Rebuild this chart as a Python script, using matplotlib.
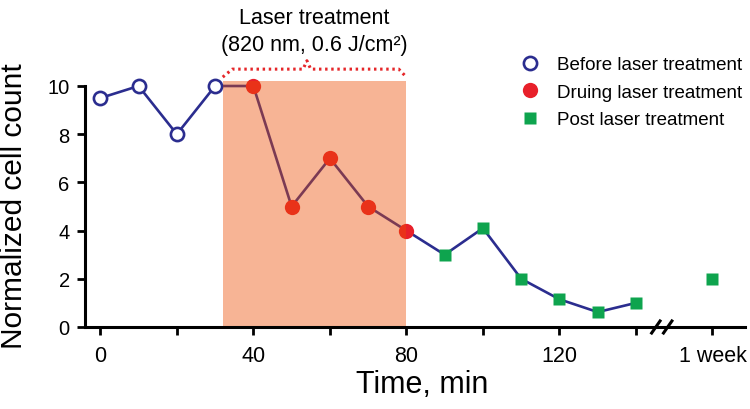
import matplotlib
matplotlib.use("Agg")
import matplotlib.pyplot as plt
from matplotlib.lines import Line2D
from matplotlib.patches import Rectangle

plt.rcParams["font.family"] = ["Liberation Sans", "DejaVu Sans"]

# Data (time in minutes; the 1-week point is placed after the axis break)
t_before = [0, 10, 20, 30]
n_before = [9.5, 10, 8, 10]
t_during = [40, 50, 60, 70, 80]
n_during = [10, 5, 7, 5, 4]
t_post = [90, 100, 110, 120, 130, 140]
n_post = [3, 4.1, 2, 1.15, 0.62, 1.0]
t_week = [160]
n_week = [2.0]

laser_start, laser_end = 32, 80
tick_pos = [0, 20, 40, 60, 80, 100, 120, 140, 160]
tick_labels = ["0", "", "40", "", "80", "", "120", "", "1 week"]
ytick_pos = [0, 2, 4, 6, 8, 10]

NAVY = "#2b2d8f"
RED = "#e8202a"
GREEN = "#0ea44e"
SHADE = "#ec4d02"
BRACE = "#e52629"

fig = plt.figure(figsize=(7.5, 4.1), dpi=100)
ax = fig.add_axes([85 / 750, 82 / 410, 660 / 750, 241 / 410])

# connecting line through before/during/post
t_line = t_before + t_during + t_post
n_line = n_before + n_during + n_post
ax.plot(t_line, n_line, color=NAVY, lw=1.9, zorder=2, clip_on=False)

ax.plot(t_before, n_before, "o", ms=9.5, mfc="white", mec=NAVY, mew=1.9,
        zorder=3, clip_on=False)
ax.plot(t_during, n_during, "o", ms=11, mfc=RED, mec="none", zorder=3,
        clip_on=False)
ax.plot(t_post + t_week, n_post + n_week, "s", ms=8, mfc=GREEN, mec="none",
        zorder=3, clip_on=False)

# laser treatment shading (drawn over the marks)
ax.add_patch(Rectangle((laser_start, 0), laser_end - laser_start, 10.22,
                       facecolor=SHADE, alpha=0.42, edgecolor="none",
                       zorder=4, clip_on=False))

# dotted brace above the shading
mid = (laser_start + laser_end) / 2 - 2
bx = [laser_start, laser_start + 2.5, mid - 1, mid, mid + 1, laser_end - 2, laser_end]
by = [10.37, 10.7, 10.7, 11.05, 10.7, 10.7, 10.37]
ax.plot(bx, by, ls=(0, (0.8, 1.2)), color=BRACE, lw=2.2, clip_on=False,
        zorder=5, solid_capstyle="round")

ax.set_xlim(-4, 168.5)
ax.set_ylim(0, 10)
ax.set_xticks(tick_pos)
ax.set_xticklabels(tick_labels)
ax.set_yticks(ytick_pos)
for s in ("top", "right"):
    ax.spines[s].set_visible(False)
for s in ("left", "bottom"):
    ax.spines[s].set_linewidth(2.2)
    ax.spines[s].set_zorder(6)
ax.tick_params(axis="both", width=2, length=6, color="black")
ax.tick_params(axis="x", pad=7, labelsize=15.5)
ax.tick_params(axis="y", pad=5, labelsize=14.5)

# axis break marks
trans = ax.get_xaxis_transform()
for xb in (145.2, 148.3):
    ax.plot([xb - 1.1, xb + 1.1], [-0.025, 0.025], color="black", lw=2.2,
            transform=trans, clip_on=False, zorder=7)

fig.text(14 / 750, 0.498, "Normalized cell count", rotation=90,
         ha="center", va="center", fontsize=21.5)
fig.text(422 / 750, 1 - 385 / 410, "Time, min", ha="center", va="center",
         fontsize=22)

fig.text(314 / 750, 1 - 18 / 410, "Laser treatment", ha="center",
         va="center", fontsize=15.5)
fig.text(314 / 750, 1 - 45 / 410, "(820 nm, 0.6 J/cm²)", ha="center",
         va="center", fontsize=15.5)

handles = [
    Line2D([], [], ls="none", marker="o", ms=9.5, mfc="white", mec=NAVY, mew=1.9),
    Line2D([], [], ls="none", marker="o", ms=11, mfc=RED, mec="none"),
    Line2D([], [], ls="none", marker="s", ms=8, mfc=GREEN, mec="none"),
]
labels = ["Before laser treatment", "Druing laser treatment",
          "Post laser treatment"]
fig.legend(handles, labels, loc="upper left",
           bbox_to_anchor=(520.6 / 750, 1 - 57 / 410), frameon=False,
           fontsize=13.5, handlelength=1.0, handletextpad=0.94,
           borderpad=0, borderaxespad=0, labelspacing=0.56)

fig.savefig("out.png", dpi=100)
